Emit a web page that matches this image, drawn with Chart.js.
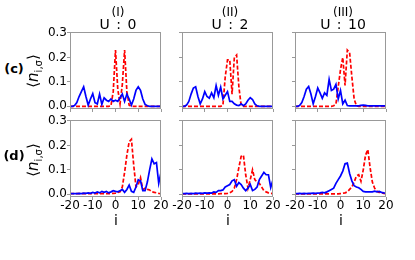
<!DOCTYPE html>
<html lang="en">
<head>
<meta charset="UTF-8">
<title>Occupation profiles</title>
<script src="https://cdn.jsdelivr.net/npm/chart.js"></script>
<style>
    body {
        margin: 0;
        width: 415px;
        height: 260px;
        position: relative;
        overflow: hidden;
        background: #fff;
        font-family: "DejaVu Sans", sans-serif;
        color: #000;
    }
    canvas { position: absolute; z-index: 1; }
    .lbl {
        position: absolute;
        z-index: 2;
        white-space: nowrap;
        transform: translate(-50%, -50%);
        line-height: 1;
    }
    .ytitle {
        position: absolute;
        z-index: 2;
        white-space: nowrap;
        font-size: 15px;
        transform: translate(-50%, -50%) rotate(-90deg);
        line-height: 1;
    }
    .ytitle sub { font-size: 10px; }
</style>
</head>
<body>

<div class="lbl" style="left:118px;top:12px;font-size:12px">(I)</div>
<div class="lbl" style="left:118px;top:24px;font-size:14px;word-spacing:2px">U : 0</div>
<div class="lbl" style="left:230px;top:12px;font-size:12px">(II)</div>
<div class="lbl" style="left:230px;top:24px;font-size:14px;word-spacing:2px">U : 2</div>
<div class="lbl" style="left:343px;top:12px;font-size:12px">(III)</div>
<div class="lbl" style="left:343px;top:24px;font-size:14px;word-spacing:2px">U : 10</div>

<div class="lbl" style="left:14px;top:68px;font-size:13px;font-weight:bold">(c)</div>
<div class="lbl" style="left:14px;top:155px;font-size:13px;font-weight:bold">(d)</div>
<div class="ytitle" style="left:35px;top:71px">⟨<i>n</i><sub>i,σ</sub>⟩</div>
<div class="ytitle" style="left:35px;top:160px">⟨<i>n</i><sub>i,σ</sub>⟩</div>

<div class="lbl" style="left:116px;top:220px;font-size:14px">i</div>
<div class="lbl" style="left:228px;top:220px;font-size:14px">i</div>
<div class="lbl" style="left:341px;top:220px;font-size:14px">i</div>

<script>
// site index
const sites = [-20, -19, -18, -17, -16, -15, -14, -13, -12, -11, -10, -9, -8, -7, -6, -5, -4, -3, -2, -1,
    0, 1, 2, 3, 4, 5, 6, 7, 8, 9, 10, 11, 12, 13, 14, 15, 16, 17, 18, 19, 20];
const xTicks = [-20, -10, 0, 10, 20];
const yTicks = [0, 0.1, 0.2, 0.3];

// row (c)
const cUp0 = [0, 0, 0.003, 0.015, 0.04, 0.06, 0.08, 0.04, 0.005, 0.03, 0.052, 0.015, 0.01, 0.05, 0.008, 0.035, 0.025, 0.02, 0.03, 0.02,
    0.025, 0.02, 0.035, 0.05, 0.02, 0.05, 0.03, 0.005, 0.03, 0.065, 0.08, 0.065, 0.03, 0.008, 0.002, 0, 0, 0, 0, 0, 0];
const cDn0 = [0, 0, 0, 0, 0, 0, 0, 0, 0, 0, 0, 0, 0, 0, 0, 0, 0, 0, 0.002, 0.06,
    0.23, 0.07, 0.01, 0.09, 0.23, 0.06, 0.005, 0, 0, 0, 0, 0, 0, 0, 0, 0, 0, 0, 0, 0, 0];
const cUp2 = [0, 0, 0.005, 0.02, 0.05, 0.075, 0.08, 0.04, 0.01, 0.03, 0.06, 0.04, 0.033, 0.055, 0.035, 0.085, 0.045, 0.078, 0.03, 0.045,
    0.06, 0.02, 0.02, 0.01, 0.005, 0.003, 0.01, 0.003, 0.01, 0.025, 0.035, 0.028, 0.01, 0.002, 0, 0, 0, 0, 0, 0, 0];
const cDn2 = [0, 0, 0, 0, 0, 0, 0, 0, 0, 0, 0, 0, 0, 0, 0, 0, 0, 0, 0.005, 0.12,
    0.19, 0.19, 0.05, 0.2, 0.21, 0.08, 0.003, 0, 0, 0, 0, 0, 0, 0, 0, 0, 0, 0, 0, 0, 0];
const cUp10 = [0, 0, 0.003, 0.015, 0.04, 0.07, 0.081, 0.05, 0.01, 0.04, 0.075, 0.055, 0.033, 0.055, 0.045, 0.11, 0.065, 0.07, 0.09, 0.03,
    0.065, 0.01, 0.025, 0.003, 0.002, 0.002, 0.002, 0.002, 0.002, 0.004, 0.005, 0.004, 0.002, 0.002, 0.002, 0.002, 0.002, 0.002, 0.002, 0.002, 0.002];
const cDn10 = [0, 0, 0, 0, 0, 0, 0, 0, 0, 0, 0, 0, 0, 0, 0, 0, 0, 0.002, 0.01, 0.08,
    0.15, 0.2, 0.085, 0.23, 0.22, 0.12, 0.03, 0.002, 0, 0, 0, 0, 0, 0, 0, 0, 0, 0, 0, 0, 0];

// row (d)
const dUp0 = [0.003, 0.003, 0.003, 0.003, 0.004, 0.003, 0.005, 0.004, 0.006, 0.004, 0.008, 0.005, 0.01, 0.006, 0.012, 0.008, 0.012, 0.006, 0.01, 0.015,
    0.012, 0.01, 0.015, 0.02, 0.008, 0.02, 0.038, 0.012, 0.008, 0.03, 0.06, 0.055, 0.015, 0.015, 0.05, 0.1, 0.145, 0.125, 0.13, 0.045, 0.09];
const dDn0 = [0.003, 0.003, 0.003, 0.003, 0.003, 0.003, 0.003, 0.003, 0.003, 0.003, 0.003, 0.003, 0.003, 0.003, 0.003, 0.003, 0.003, 0.003, 0.003, 0.004,
    0.005, 0.007, 0.01, 0.03, 0.09, 0.16, 0.215, 0.225, 0.12, 0.03, 0.04, 0.068, 0.02, 0.025, 0.02, 0.018, 0.01, 0.008, 0.006, 0.004, 0.003];
const dUp2 = [0.003, 0.003, 0.004, 0.003, 0.004, 0.003, 0.005, 0.004, 0.005, 0.004, 0.006, 0.005, 0.006, 0.005, 0.01, 0.008, 0.015, 0.015, 0.018, 0.03,
    0.035, 0.04, 0.055, 0.06, 0.033, 0.048, 0.04, 0.025, 0.015, 0.025, 0.04, 0.015, 0.02, 0.03, 0.06, 0.075, 0.09, 0.08, 0.08, 0.028, 0.06];
const dDn2 = [0.002, 0.002, 0.002, 0.002, 0.002, 0.002, 0.002, 0.002, 0.002, 0.002, 0.002, 0.002, 0.002, 0.002, 0.002, 0.002, 0.002, 0.003, 0.003, 0.003,
    0.004, 0.006, 0.012, 0.025, 0.06, 0.11, 0.155, 0.16, 0.08, 0.025, 0.06, 0.1, 0.06, 0.05, 0.045, 0.03, 0.015, 0.01, 0.006, 0.004, 0.003];
const dUp10 = [0.003, 0.003, 0.004, 0.003, 0.004, 0.003, 0.004, 0.004, 0.005, 0.004, 0.005, 0.006, 0.008, 0.006, 0.01, 0.015, 0.02, 0.025, 0.045, 0.06,
    0.075, 0.095, 0.125, 0.128, 0.085, 0.055, 0.035, 0.03, 0.027, 0.02, 0.012, 0.01, 0.01, 0.01, 0.01, 0.013, 0.01, 0.012, 0.008, 0.006, 0.005];
const dDn10 = [0.002, 0.002, 0.002, 0.002, 0.002, 0.002, 0.002, 0.002, 0.002, 0.002, 0.002, 0.002, 0.002, 0.002, 0.002, 0.002, 0.002, 0.002, 0.002, 0.002,
    0.003, 0.004, 0.006, 0.01, 0.02, 0.03, 0.05, 0.075, 0.08, 0.053, 0.1, 0.16, 0.183, 0.11, 0.05, 0.025, 0.012, 0.008, 0.006, 0.004, 0.003];

const panels = [
    { up: cUp0, dn: cDn0, col: 0, row: 0 },
    { up: cUp2, dn: cDn2, col: 1, row: 0 },
    { up: cUp10, dn: cDn10, col: 2, row: 0 },
    { up: dUp0, dn: dDn0, col: 0, row: 1 },
    { up: dUp2, dn: dDn2, col: 1, row: 1 },
    { up: dUp10, dn: dDn10, col: 2, row: 1 }
];

const colLeft = [70, 182, 295];
const rowTop = [32, 120];
const plotW = 91, plotH = 77;
const padL = 35, padT = 8, padR = 12, padB = 25;
const axisGray = '#999';

// box around each panel
const frame = {
    id: 'frame',
    afterDraw(chart) {
        const a = chart.chartArea;
        const ctx = chart.ctx;
        ctx.save();
        ctx.strokeStyle = axisGray;
        ctx.lineWidth = 1;
        ctx.strokeRect(a.left + 0.5, a.top + 0.5, a.right - a.left - 1, a.bottom - a.top - 1);
        ctx.restore();
    }
};

function toPoints(vals) {
    return sites.map((s, k) => ({ x: s, y: vals[k] }));
}

panels.forEach(p => {
    const cv = document.createElement('canvas');
    cv.width = padL + plotW + padR;
    cv.height = padT + plotH + padB;
    cv.style.left = (colLeft[p.col] - padL) + 'px';
    cv.style.top = (rowTop[p.row] - padT) + 'px';
    document.body.appendChild(cv);

    const showY = p.col === 0;
    const showX = p.row === 1;

    new Chart(cv, {
        type: 'line',
        data: {
            datasets: [
                {
                    data: toPoints(p.up),
                    borderColor: '#0000ff',
                    borderWidth: 1.7,
                    pointRadius: 0,
                    tension: 0
                },
                {
                    data: toPoints(p.dn),
                    borderColor: '#ff0000',
                    borderWidth: 1.7,
                    borderDash: [4, 2],
                    pointRadius: 0,
                    tension: 0
                }
            ]
        },
        options: {
            responsive: false,
            animation: false,
            devicePixelRatio: 1,
            layout: { padding: { left: 0, top: padT, right: padR, bottom: 0 } },
            plugins: { legend: { display: false }, tooltip: { enabled: false } },
            scales: {
                x: {
                    type: 'linear',
                    min: -20,
                    max: 20,
                    afterBuildTicks: s => { s.ticks = xTicks.map(v => ({ value: v })); },
                    afterFit: s => { s.height = padB; },
                    border: { display: false },
                    grid: { drawOnChartArea: false, drawTicks: true, tickLength: 3, tickColor: axisGray },
                    ticks: {
                        padding: -1,
                        autoSkip: false,
                        color: '#000',
                        font: { family: 'DejaVu Sans', size: 12 },
                        maxRotation: 0,
                        callback: v => showX ? String(v) : ''
                    }
                },
                y: {
                    min: -0.011,
                    max: 0.304,
                    afterBuildTicks: s => { s.ticks = yTicks.map(v => ({ value: v })); },
                    afterFit: s => { s.width = padL; },
                    border: { display: false },
                    grid: { drawOnChartArea: false, drawTicks: true, tickLength: 3, tickColor: axisGray },
                    ticks: {
                        padding: 0,
                        autoSkip: false,
                        color: '#000',
                        font: { family: 'DejaVu Sans', size: 12 },
                        callback: v => showY ? v.toFixed(1) : ''
                    }
                }
            }
        },
        plugins: [frame]
    });
});
</script>
</body>
</html>
